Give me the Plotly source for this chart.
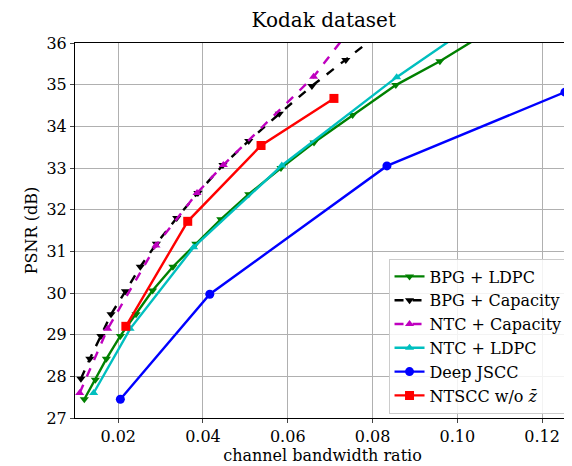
import plotly.graph_objects as go

bpg_ldpc_x = [0.0120, 0.0146, 0.0172, 0.0205, 0.0242, 0.0281, 0.0329, 0.0383, 0.0442, 0.0508, 0.0584, 0.0662, 0.0753, 0.0855, 0.0959, 0.1045]
bpg_ldpc_y = [27.45, 27.92, 28.42, 28.97, 29.49, 30.06, 30.63, 31.18, 31.77, 32.37, 33.00, 33.61, 34.27, 34.99, 35.56, 36.10]

bpg_cap_x = [0.0112, 0.0133, 0.0159, 0.0183, 0.0217, 0.0252, 0.0290, 0.0338, 0.0388, 0.0447, 0.0508, 0.0580, 0.0657, 0.0737, 0.0800]
bpg_cap_y = [27.94, 28.42, 28.97, 29.49, 30.04, 30.63, 31.18, 31.80, 32.40, 33.07, 33.65, 34.30, 34.97, 35.59, 36.10]

ntc_cap_x = [0.0109, 0.0175, 0.0289, 0.0386, 0.0448, 0.0661, 0.0730]
ntc_cap_y = [27.60, 29.14, 31.14, 32.40, 33.07, 35.19, 36.10]

ntc_ldpc_x = [0.0142, 0.0228, 0.0378, 0.0586, 0.0857, 0.0989]
ntc_ldpc_y = [27.60, 29.14, 31.10, 33.06, 35.18, 36.10]

djscc_x = [0.0205, 0.0416, 0.0834, 0.1254]
djscc_y = [27.45, 29.97, 33.05, 34.82]

ntscc_x = [0.0218, 0.0364, 0.0537, 0.0709]
ntscc_y = [29.20, 31.72, 33.54, 34.67]

series = [
    ("BPG + LDPC", bpg_ldpc_x, bpg_ldpc_y, "#008000", "solid", "triangle-down"),
    ("BPG + Capacity", bpg_cap_x, bpg_cap_y, "black", "dash", "triangle-down"),
    ("NTC + Capacity", ntc_cap_x, ntc_cap_y, "#bf00bf", "dash", "triangle-up"),
    ("NTC + LDPC", ntc_ldpc_x, ntc_ldpc_y, "#00bfbf", "solid", "triangle-up"),
    ("Deep JSCC", djscc_x, djscc_y, "#0000ff", "solid", "circle"),
    ("NTSCC w/o <i>z̄</i>", ntscc_x, ntscc_y, "#ff0000", "solid", "square"),
]

fig = go.Figure()
for name, xs, ys, col, dash, sym in series:
    fig.add_trace(go.Scatter(x=xs, y=ys, name=name, mode="lines+markers",
                             line=dict(color=col, width=2.4, dash=dash),
                             marker=dict(color=col, symbol=sym, size=9 if sym in ("circle", "square") else 8)))

axis = dict(showline=True, linecolor="black", linewidth=1, mirror=True, ticks="outside",
            ticklen=4, gridcolor="#b0b0b0", gridwidth=1, zeroline=False, automargin=False,
            tickfont=dict(size=16, color="black"))
fig.update_layout(
    width=572, height=466,
    margin=dict(l=67, r=10, t=35, b=56),
    plot_bgcolor="white", paper_bgcolor="white",
    font=dict(family="DejaVu Serif", color="black"),
    title=dict(text="Kodak dataset", x=0.552, xanchor="center", y=0.99, yanchor="top", font=dict(size=20)),
    xaxis=dict(axis, range=[0.0098, 0.1266], dtick=0.02, tickformat=".2f",
               title=dict(text="channel bandwidth ratio", font=dict(size=16), standoff=2)),
    yaxis=dict(axis, range=[27, 36], dtick=1,
               title=dict(text="PSNR (dB)", font=dict(size=16), standoff=4)),
    legend=dict(x=0.995, y=0.012, xanchor="right", yanchor="bottom", bgcolor="rgba(255,255,255,0.85)",
                bordercolor="#cccccc", borderwidth=1, font=dict(size=16), tracegroupgap=0),
)
fig.write_html("out.html")
